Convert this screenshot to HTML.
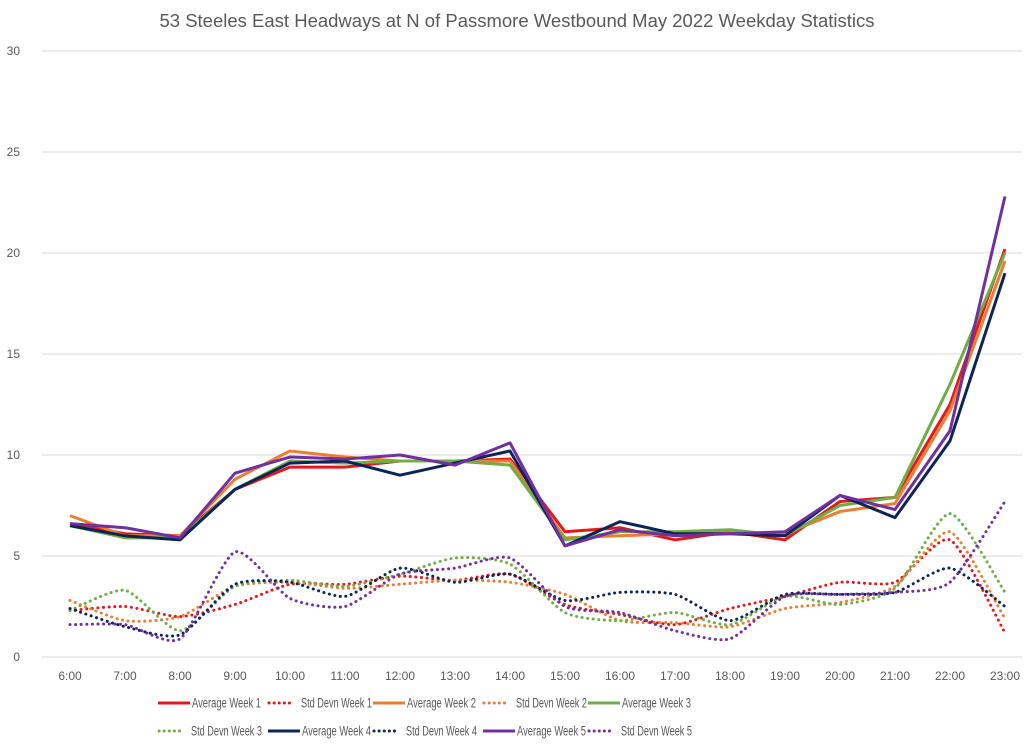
<!DOCTYPE html>
<html><head><meta charset="utf-8"><style>
body{margin:0;background:#fff;}
svg{display:block;font-family:"Liberation Sans",sans-serif;}
</style></head><body>
<svg id="chart" width="1024" height="748">
<text x="517" y="27" text-anchor="middle" font-size="18.5" fill="#595959">53 Steeles East Headways at N of Passmore Westbound May 2022 Weekday Statistics</text>
<g id="grid"></g><g id="series"></g><g id="legend"></g>
</svg>
<script>
const categories=["6:00","7:00","8:00","9:00","10:00","11:00","12:00","13:00","14:00","15:00","16:00","17:00","18:00","19:00","20:00","21:00","22:00","23:00"];
const yTicks=[0,5,10,15,20,25,30];
const avgW1=[6.6,6.1,6.0,8.3,9.4,9.4,9.7,9.7,9.8,6.2,6.4,5.8,6.2,5.8,7.7,7.9,12.5,20.2];
const avgW2=[7.0,6.0,6.0,8.8,10.2,9.9,9.7,9.7,9.7,5.9,6.0,6.1,6.2,6.1,7.2,7.6,12.2,19.6];
const avgW3=[6.5,5.9,5.9,8.3,9.7,9.6,9.7,9.7,9.5,5.8,6.2,6.2,6.3,6.0,7.5,7.9,13.5,20.0];
const avgW4=[6.5,6.0,5.8,8.3,9.6,9.7,9.0,9.6,10.2,5.5,6.7,6.1,6.1,6.0,8.0,6.9,10.7,19.0];
const avgW5=[6.6,6.4,5.9,9.1,9.9,9.8,10.0,9.5,10.6,5.5,6.3,6.0,6.1,6.2,8.0,7.3,11.2,22.8];
const sdW1=[2.3,2.5,2.0,2.6,3.6,3.6,4.0,3.8,4.1,2.6,2.1,1.6,2.4,3.0,3.7,3.7,5.8,1.2];
const sdW2=[2.8,1.8,2.0,3.5,3.7,3.4,3.6,3.8,3.7,3.1,1.8,1.7,1.5,2.4,2.7,3.5,6.2,1.9];
const sdW3=[2.3,3.3,1.3,3.5,3.8,3.5,4.1,4.9,4.6,2.2,1.8,2.2,1.6,3.0,2.6,3.4,7.1,3.2];
const sdW4=[2.4,1.5,1.1,3.6,3.7,3.0,4.4,3.7,4.1,2.8,3.2,3.1,1.8,3.1,3.1,3.2,4.4,2.5];
const sdW5=[1.6,1.6,0.9,5.2,2.9,2.5,4.1,4.4,4.9,2.5,2.2,1.3,0.9,3.0,3.1,3.2,3.7,7.7];

const NS="http://www.w3.org/2000/svg";
const X0=70,DX=55,Y0=657,YS=606/30;
const xs=i=>X0+i*DX, ys=v=>Y0-v*YS;
function mk(t,a,p){const e=document.createElementNS(NS,t);for(const k in a)e.setAttribute(k,a[k]);p.appendChild(e);return e;}
const grid=document.getElementById('grid'),ser=document.getElementById('series'),leg=document.getElementById('legend');
yTicks.forEach(v=>{
 const l=mk('line',{x1:42,x2:1022,y1:ys(v),y2:ys(v),stroke:'#d9d9d9','stroke-width':1},grid);
 
 
 const t=mk('text',{x:20,y:ys(v)+4,'text-anchor':'end','font-size':12,fill:'#595959'},grid);t.textContent=v;
 
 
});
categories.forEach((c,i)=>{
 const t=mk('text',{x:xs(i),y:680,'text-anchor':'middle','font-size':12,fill:'#595959'},grid);t.textContent=c;
 
 
});
function smooth(d){
 const p=d.map((v,i)=>[xs(i),ys(v)]);let s='M'+p[0];const k=9;
 for(let i=0;i<p.length-1;i++){const a=p[i-1]||p[i],b=p[i],c=p[i+1],e=p[i+2]||c;
  s+=` C${b[0]+(c[0]-a[0])/k},${b[1]+(c[1]-a[1])/k} ${c[0]-(e[0]-b[0])/k},${c[1]-(e[1]-b[1])/k} ${c[0]},${c[1]}`;}
 return s;}
const series=[
 ['Average Week 1',avgW1,'#e31a1c',0],['Std Devn Week 1',sdW1,'#e31a1c',1],
 ['Average Week 2',avgW2,'#ed7d31',0],['Std Devn Week 2',sdW2,'#ed7d31',1],
 ['Average Week 3',avgW3,'#70ad47',0],['Std Devn Week 3',sdW3,'#70ad47',1],
 ['Average Week 4',avgW4,'#0d2458',0],['Std Devn Week 4',sdW4,'#0d2458',1],
 ['Average Week 5',avgW5,'#7030a0',0],['Std Devn Week 5',sdW5,'#7030a0',1]];
const order=[1,3,5,7,9,0,2,4,6,8];
order.forEach(k=>{const [n,d,c,dot]=series[k];
 const a=dot?{d:smooth(d),fill:'none',stroke:c,'stroke-width':3,'stroke-dasharray':'0.1 5.5','stroke-linecap':'round'}
  :{d:'M'+d.map((v,i)=>xs(i)+','+ys(v)).join(' L'),fill:'none',stroke:c,'stroke-width':3,'stroke-linejoin':'round'};
 const p=mk('path',a,ser);
 
 
});
const lx=[158,268,373,483,588];
series.forEach(([n,d,c,dot],k)=>{
 const row=k<5?0:1,col=k%5,x=lx[col],y=row?731:703;
 const g=mk('g',{},leg);
 
 
 mk('line',dot?{x1:x+1,x2:x+26,y1:y,y2:y,stroke:c,'stroke-width':3,'stroke-dasharray':'0.1 5','stroke-linecap':'round'}:{x1:x,x2:x+32,y1:y,y2:y,stroke:c,'stroke-width':3},g);
 const t=mk('text',{x:x+(dot?33:34),y:y+4.5,'font-size':13.5,fill:'#595959',textLength:dot?71:69,lengthAdjust:'spacingAndGlyphs'},g);t.textContent=n;
});
</script>
</body></html>
